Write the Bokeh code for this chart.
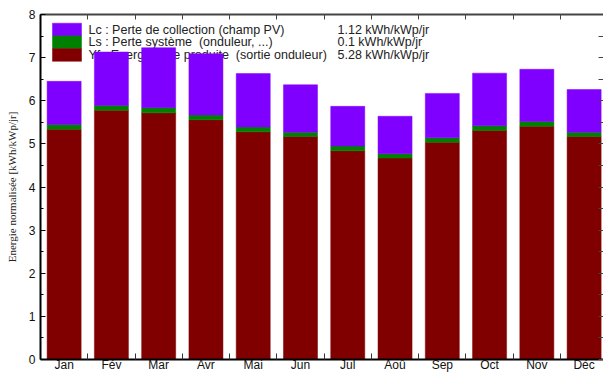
from bokeh.plotting import figure
from bokeh.models import Range1d, LinearAxis, FixedTicker, ColumnDataSource
from bokeh.core.properties import value
from bokeh.embed import file_html
from bokeh.resources import INLINE

months = ["Jan", "Fév", "Mar", "Avr", "Mai", "Jun", "Jul", "Aoû", "Sep", "Oct", "Nov", "Déc"]
yf = [5.34, 5.78, 5.72, 5.56, 5.28, 5.17, 4.84, 4.67, 5.04, 5.31, 5.41, 5.17]
ls = [0.11, 0.11, 0.12, 0.11, 0.11, 0.10, 0.11, 0.10, 0.10, 0.11, 0.11, 0.10]
lc = [1.00, 1.24, 1.39, 1.42, 1.24, 1.10, 0.92, 0.87, 1.03, 1.22, 1.21, 0.99]
labels = ["Lc : Perte de collection (champ PV)",
          "Ls : Perte système\u00a0 (onduleur, ...)",
          "Yf : Energie utile produite\u00a0 (sortie onduleur)"]
values = ["1.12 kWh/kWp/jr", "0.1 kWh/kWp/jr", "5.28 kWh/kWp/jr"]
y_ticks = [0, 1, 2, 3, 4, 5, 6, 7, 8]

RED, GREEN, PURPLE = "#800000", "#008000", "#8000ff"
FONT = "Liberation Sans"

# layout constants (pixels)
W, H = 603, 374
LEFT, TOP, BOTTOM = 40, 14, 15
X0, X1, Y0, Y1 = 0.5, 12.41, 0, 8
FW, FH = W - LEFT, H - TOP - BOTTOM
PXX, PXY = FW / (X1 - X0), FH / (Y1 - Y0)


def dx(px):  # canvas px -> data x
    return X0 + (px - LEFT) / PXX


def dy(py):  # canvas px -> data y
    return Y0 + (TOP + FH - py) / PXY


xs = list(range(1, len(months) + 1))
bounds = [x + 0.5 for x in range(0, len(months) + 1)]
src = ColumnDataSource(dict(x=xs, yf=yf, ls=ls, lc=lc))

p = figure(width=W, height=H, x_range=Range1d(X0, X1), y_range=Range1d(Y0, Y1),
           output_backend="svg", toolbar_location=None,
           min_border_left=LEFT, min_border_right=0, min_border_top=TOP, min_border_bottom=BOTTOM)
p.outline_line_color = None
p.xgrid.visible = False
p.ygrid.visible = False
p.background_fill_color = "white"

# legend drawn first so that the bars cover it, as in the original
row_h, leg_top = 12.7, 22.7
leg_colors = [PURPLE, GREEN, RED]
for i in range(3):
    t = leg_top + i * row_h
    p.quad(left=dx(52), right=dx(81), top=dy(t), bottom=dy(t + row_h),
           fill_color=leg_colors[i], line_color=leg_colors[i], line_width=0.5)
p.text(x=[dx(88)] * 3, y=[dy(leg_top + (i + 0.5) * row_h) for i in range(3)], text=labels,
       text_font=value(FONT), text_font_size="12.5px", text_color="#222222",
       text_baseline="middle")
p.text(x=[dx(337)] * 3, y=[dy(leg_top + (i + 0.5) * row_h) for i in range(3)], text=values,
       text_font=value(FONT), text_font_size="12.5px", text_color="#222222",
       text_baseline="middle")

p.vbar_stack(["yf", "ls", "lc"], x="x", width=0.72, source=src,
             fill_color=[RED, GREEN, PURPLE], line_color=[RED, GREEN, PURPLE], line_width=0.5)

# bottom axis
xa = p.xaxis[0]
xa.ticker = FixedTicker(ticks=xs, minor_ticks=bounds)
xa.major_label_overrides = {x: m for x, m in zip(xs, months)}
xa.major_tick_in = 0
xa.major_tick_out = 0
xa.minor_tick_in = 6
xa.minor_tick_out = 0
xa.major_label_standoff = -2
xa.major_label_text_font = FONT
xa.major_label_text_font_size = "12px"
xa.major_label_text_color = "#111111"
xa.axis_line_color = "black"
xa.axis_line_width = 2
xa.minor_tick_line_color = "#333333"

# left axis
ya = p.yaxis[0]
ya.ticker = FixedTicker(ticks=y_ticks, minor_ticks=[t + 0.5 for t in y_ticks[:-1]])
ya.major_tick_in = 5
ya.major_tick_out = 0
ya.minor_tick_in = 3
ya.minor_tick_out = 0
ya.major_label_standoff = 5
ya.major_label_text_font = FONT
ya.major_label_text_font_size = "12px"
ya.major_label_text_color = "#111111"
ya.axis_line_color = "black"
ya.axis_line_width = 2
ya.axis_label = "Energie normalisée [kWh/kWp/jr]"
ya.axis_label_text_font = "Liberation Serif"
ya.axis_label_text_font_style = "normal"
ya.axis_label_text_font_size = "11px"
ya.axis_label_standoff = 8
ya.axis_label_text_color = "#222222"

# top axis (ticks only)
ta = LinearAxis(ticker=FixedTicker(ticks=[], minor_ticks=bounds),
                major_label_standoff=0, minor_tick_in=5, minor_tick_out=0,
                major_tick_in=0, major_tick_out=0,
                axis_line_color="#444444", axis_line_width=2,
                minor_tick_line_color="#444444")
p.add_layout(ta, "above")

# right axis (ticks only)
ra = LinearAxis(ticker=FixedTicker(ticks=[], minor_ticks=[t / 2 for t in range(0, 17)]),
                major_label_standoff=0, minor_tick_in=5, minor_tick_out=0,
                major_tick_in=0, major_tick_out=0,
                axis_line_color=None, minor_tick_line_color="#444444")
p.add_layout(ra, "right")

open("out.html", "w").write(file_html(p, INLINE))
